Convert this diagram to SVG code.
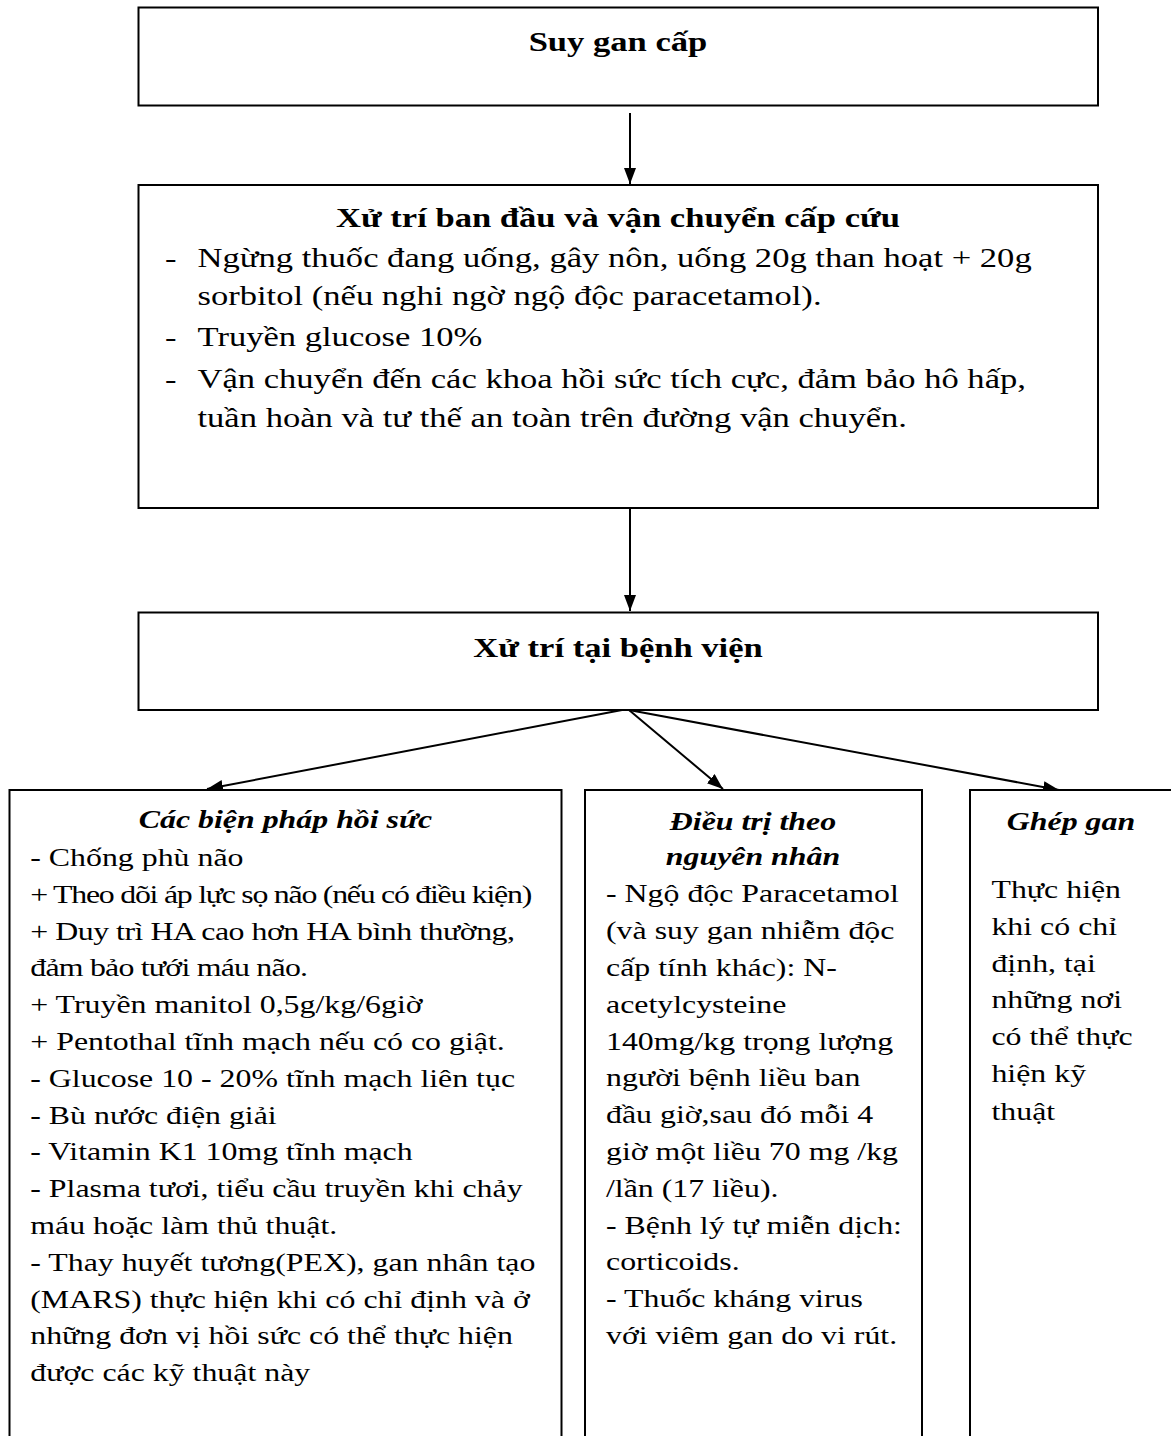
<svg xmlns="http://www.w3.org/2000/svg" width="1171" height="1436" viewBox="0 0 1171 1436">
<style>
.box{fill:#fff;stroke:#000;stroke-width:2}
.t{font-family:"Liberation Serif","Times New Roman",serif;fill:#000}
.h{font-size:28px;font-weight:bold;text-anchor:middle}
.b{font-size:28px}
.s{font-size:25.8px}
.hi{font-size:25.8px;font-weight:bold;font-style:italic;text-anchor:middle}
.c{stroke:#000;stroke-width:2;fill:none}
</style>
<defs>
<marker id="ah" markerUnits="userSpaceOnUse" markerWidth="18" markerHeight="14" refX="16" refY="6" orient="auto">
<path d="M0,0 L16,6 L0,12 z" fill="#000"/>
</marker>
</defs>
<rect width="1171" height="1436" fill="#fff"/>
<g id="connectors">
<line class="c" x1="630" y1="113" x2="630" y2="184" marker-end="url(#ah)"/>
<line class="c" x1="630" y1="509" x2="630" y2="611" marker-end="url(#ah)"/>
<line class="c" x1="622" y1="710" x2="207" y2="789" marker-end="url(#ah)"/>
<line class="c" x1="629" y1="710" x2="723" y2="789" marker-end="url(#ah)"/>
<line class="c" x1="629" y1="710" x2="1059" y2="790" marker-end="url(#ah)"/>
</g>
<g id="suy-gan-cap">
<rect class="box" x="138.5" y="7.5" width="959.5" height="98"/>
<g transform="scale(1.235 1)"><text class="t h" x="500.4" y="51">Suy gan cấp</text></g>
</g>
<g id="xu-tri-ban-dau">
<rect class="box" x="138.5" y="185" width="959.5" height="323"/>
<g transform="scale(1.235 1)">
<text class="t h" x="500.4" y="226.7">Xử trí ban đầu và vận chuyển cấp cứu</text>
<text class="t b" x="133.6" y="266.7">-</text>
<text class="t b" x="159.9" y="266.7">Ngừng thuốc đang uống, gây nôn, uống 20g than hoạt + 20g</text>
<text class="t b" x="159.9" y="305">sorbitol (nếu nghi ngờ ngộ độc paracetamol).</text>
<text class="t b" x="133.6" y="346">-</text>
<text class="t b" x="159.9" y="346">Truyền glucose 10%</text>
<text class="t b" x="133.6" y="388">-</text>
<text class="t b" x="159.9" y="388">Vận chuyển đến các khoa hồi sức tích cực, đảm bảo hô hấp,</text>
<text class="t b" x="159.9" y="426.7">tuần hoàn và tư thế an toàn trên đường vận chuyển.</text>
</g>
</g>
<g id="xu-tri-benh-vien">
<rect class="box" x="138.5" y="612.5" width="959.5" height="97.5"/>
<g transform="scale(1.235 1)"><text class="t h" x="500.4" y="656.7">Xử trí tại bệnh viện</text></g>
</g>
<g id="hoi-suc">
<rect class="box" x="9.5" y="790" width="552" height="700"/>
<g transform="scale(1.235 1)">
<text class="t hi" x="231.2" y="828">Các biện pháp hồi sức</text>
<text class="t s" x="24.5" y="866">- Chống phù não</text>
<text class="t s" x="24.5" y="902.8" textLength="406.5" lengthAdjust="spacing">+ Theo dõi áp lực sọ não (nếu có điều kiện)</text>
<text class="t s" x="24.5" y="939.6" textLength="392.5" lengthAdjust="spacing">+ Duy trì HA cao hơn HA bình thường,</text>
<text class="t s" x="24.5" y="976.4" textLength="224.9" lengthAdjust="spacing">đảm bảo tưới máu não.</text>
<text class="t s" x="24.5" y="1013.2">+ Truyền manitol 0,5g/kg/6giờ</text>
<text class="t s" x="24.5" y="1050">+ Pentothal tĩnh mạch nếu có co giật.</text>
<text class="t s" x="24.5" y="1086.8">- Glucose 10 - 20% tĩnh mạch liên tục</text>
<text class="t s" x="24.5" y="1123.6">- Bù nước điện giải</text>
<text class="t s" x="24.5" y="1160.4">- Vitamin K1 10mg tĩnh mạch</text>
<text class="t s" x="24.5" y="1197.2">- Plasma tươi, tiểu cầu truyền khi chảy</text>
<text class="t s" x="24.5" y="1234">máu hoặc làm thủ thuật.</text>
<text class="t s" x="24.5" y="1270.8">- Thay huyết tương(PEX), gan nhân tạo</text>
<text class="t s" x="24.5" y="1307.6">(MARS) thực hiện khi có chỉ định và ở</text>
<text class="t s" x="24.5" y="1344.4">những đơn vị hồi sức có thể thực hiện</text>
<text class="t s" x="24.5" y="1381.2">được các kỹ thuật này</text>
</g>
</g>
<g id="dieu-tri-nguyen-nhan">
<rect class="box" x="585" y="790" width="337" height="700"/>
<g transform="scale(1.235 1)">
<text class="t hi" x="609.7" y="830">Điều trị theo</text>
<text class="t hi" x="609.7" y="865">nguyên nhân</text>
<text class="t s" x="490.7" y="902.5">- Ngộ độc Paracetamol</text>
<text class="t s" x="490.7" y="939.3">(và suy gan nhiễm độc</text>
<text class="t s" x="490.7" y="976.1">cấp tính khác): N-</text>
<text class="t s" x="490.7" y="1012.9">acetylcysteine</text>
<text class="t s" x="490.7" y="1049.7">140mg/kg trọng lượng</text>
<text class="t s" x="490.7" y="1086.5">người bệnh liều ban</text>
<text class="t s" x="490.7" y="1123.3">đầu giờ,sau đó mỗi 4</text>
<text class="t s" x="490.7" y="1160.1">giờ một liều 70 mg /kg</text>
<text class="t s" x="490.7" y="1196.9">/lần (17 liều).</text>
<text class="t s" x="490.7" y="1233.7">- Bệnh lý tự miễn dịch:</text>
<text class="t s" x="490.7" y="1270.5">corticoids.</text>
<text class="t s" x="490.7" y="1307.3">- Thuốc kháng virus</text>
<text class="t s" x="490.7" y="1344.1">với viêm gan do vi rút.</text>
</g>
</g>
<g id="ghep-gan">
<rect class="box" x="970" y="790" width="203" height="700"/>
<g transform="scale(1.235 1)">
<text class="t hi" x="867.2" y="830">Ghép gan</text>
<text class="t s" x="802.8" y="898.3">Thực hiện</text>
<text class="t s" x="802.8" y="935">khi có chỉ</text>
<text class="t s" x="802.8" y="971.7">định, tại</text>
<text class="t s" x="802.8" y="1008.4">những nơi</text>
<text class="t s" x="802.8" y="1045.1">có thể thực</text>
<text class="t s" x="802.8" y="1081.8">hiện kỹ</text>
<text class="t s" x="802.8" y="1120">thuật</text>
</g>
</g>
</svg>
